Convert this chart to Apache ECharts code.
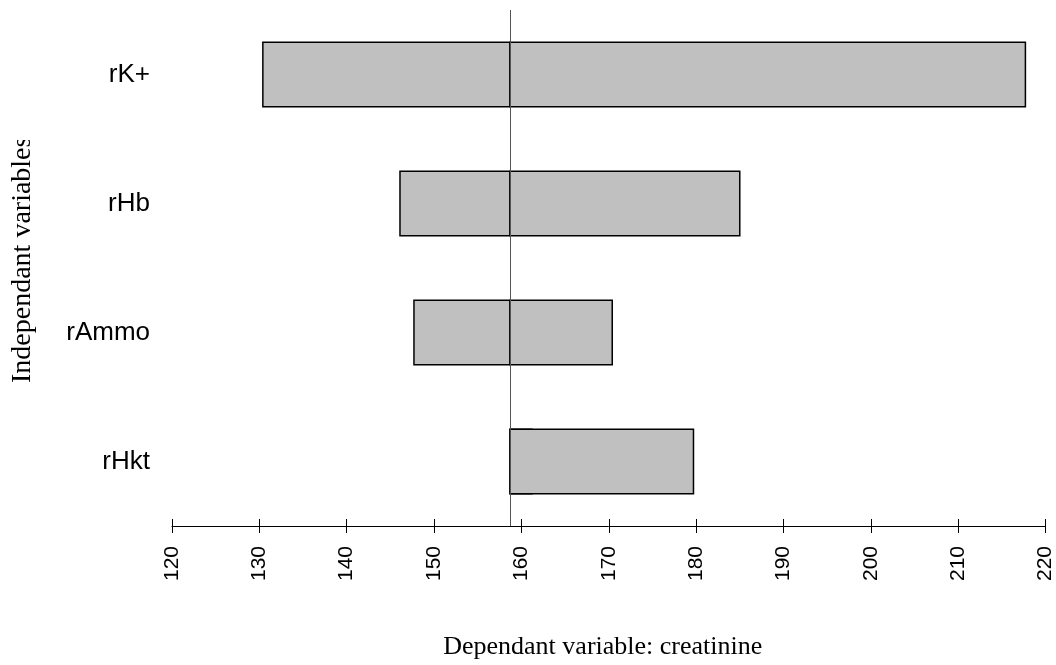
<!DOCTYPE html>
<html>
<head>
<meta charset="utf-8">
<script src="https://cdn.jsdelivr.net/npm/echarts@6/dist/echarts.min.js"></script>
<style>
html,body{margin:0;padding:0;background:#fff;}
#chart{width:1056px;height:665px;}
</style>
</head>
<body>
<div id="chart"></div>
<script>
var categories = ['rK+', 'rHb', 'rAmmo', 'rHkt'];
var lowValues = [130.4, 146.1, 147.7, 161.2];
var highValues = [217.7, 185.0, 170.4, 179.7];
var baseline = 158.7;
var xTicks = [120, 130, 140, 150, 160, 170, 180, 190, 200, 210, 220];

var chart = echarts.init(document.getElementById('chart'), null, {renderer: 'canvas'});

function barRender(params, api) {
  var cat = api.value(0);
  var v = api.value(1);
  var p0 = api.coord([baseline, cat]);
  var p1 = api.coord([v, cat]);
  var h = api.size([0, 1])[1] * 0.5;
  var x = Math.min(p0[0], p1[0]);
  var w = Math.abs(p1[0] - p0[0]);
  return {
    type: 'rect',
    shape: {x: x, y: p0[1] - h / 2, width: w, height: h},
    style: {fill: '#c0c0c0', stroke: '#000', lineWidth: 1.5}
  };
}

var highData = categories.map(function (c, i) { return [i, highValues[i]]; });
var lowData = categories.map(function (c, i) { return [i, lowValues[i]]; });

var xCommon = {
  type: 'value',
  min: xTicks[0],
  max: xTicks[xTicks.length - 1],
  interval: 10,
  splitLine: {show: false}
};

chart.setOption({
  animation: false,
  backgroundColor: '#fff',
  grid: {left: 172, right: 10, top: 10, bottom: 138, containLabel: false},
  xAxis: [
    Object.assign({}, xCommon, {
      position: 'bottom',
      axisLine: {show: true, lineStyle: {color: '#000', width: 1}},
      axisTick: {show: true, length: 7, lineStyle: {color: '#000', width: 1}},
      axisLabel: {show: true, rotate: 90, margin: 20, color: '#000', fontSize: 21, fontFamily: 'Liberation Sans, Arial, sans-serif'},
      name: 'Dependant variable: creatinine',
      nameLocation: 'middle',
      nameGap: 108,
      nameTextStyle: {color: '#000', fontSize: 26, padding: [0, 12, 0, 0], fontFamily: 'Liberation Serif, Times New Roman, serif'}
    }),
    Object.assign({}, xCommon, {
      position: 'bottom',
      axisLine: {show: false},
      axisTick: {show: true, inside: true, length: 7, lineStyle: {color: '#000', width: 1}},
      axisLabel: {show: false}
    })
  ],
  yAxis: {
    type: 'category',
    data: categories,
    inverse: true,
    axisLine: {show: false},
    axisTick: {show: false},
    splitLine: {show: false},
    axisLabel: {color: '#000', fontSize: 26, margin: 22, fontFamily: 'Liberation Sans, Arial, sans-serif'}
  },
  graphic: [
    {
      type: 'text',
      x: 23, y: 383,
      rotation: Math.PI / 2,
      style: {text: 'Independant variables', fill: '#000', fontSize: 28, fontFamily: 'Liberation Serif, Times New Roman, serif', align: 'left', verticalAlign: 'middle'},
      z: 10
    },
    {
      type: 'rect',
      shape: {x: 0, y: 0, width: 45, height: 140},
      style: {fill: '#fff'},
      z: 20
    }
  ],
  series: [
    {
      type: 'custom',
      name: 'low',
      renderItem: barRender,
      encode: {x: 1, y: 0},
      data: lowData,
      z: 2
    },
    {
      type: 'custom',
      name: 'high',
      renderItem: barRender,
      encode: {x: 1, y: 0},
      data: highData,
      z: 3,
      markLine: {
        silent: true,
        symbol: 'none',
        label: {show: false},
        lineStyle: {color: '#555', width: 1, type: 'solid'},
        data: [{xAxis: baseline}]
      }
    }
  ]
});
</script>
</body>
</html>
